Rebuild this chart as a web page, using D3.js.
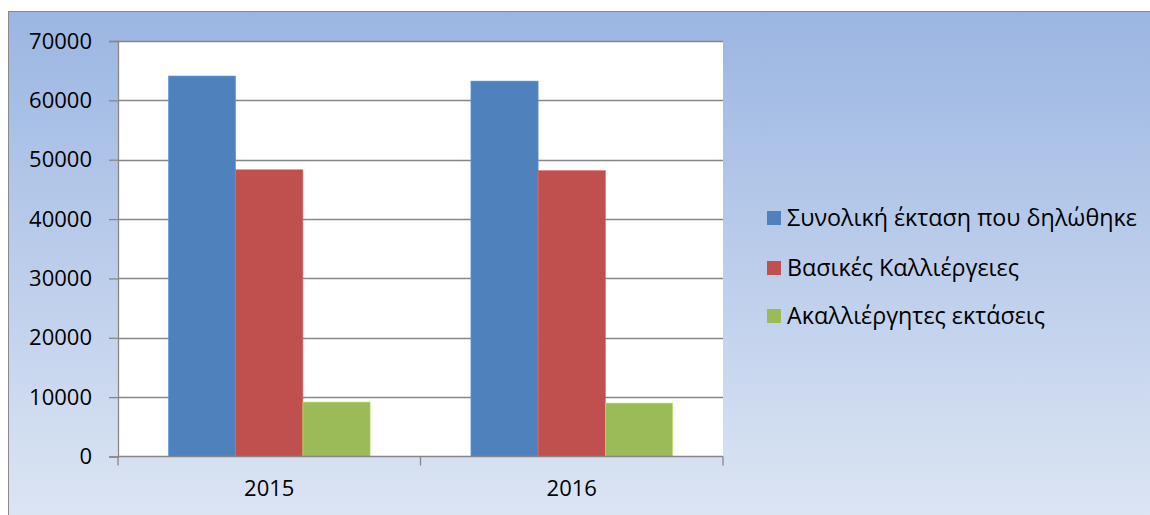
<!DOCTYPE html>
<html><head><meta charset="utf-8">
<script src="https://cdn.jsdelivr.net/npm/d3@7"></script>
<style>body{margin:0;background:#fff}svg{display:block}</style>
</head><body><svg id="c" width="1150" height="515"></svg>
<script>
const categories = ["2015", "2016"];
const seriesNames = ["Συνολική έκταση που δηλώθηκε", "Βασικές Καλλιέργειες", "Ακαλλιέργητες εκτάσεις"];
const seriesColors = ["#4f81bd", "#c0504d", "#9bbb59"];
const values = [
  [64100, 48300, 9170],
  [63250, 48150, 9000]
];
const yTicks = [0, 10000, 20000, 30000, 40000, 50000, 60000, 70000];

const svg = d3.select("#c");
const defs = svg.append("defs");
const grad = defs.append("linearGradient").attr("id","bg").attr("x1",0).attr("y1",0).attr("x2",0).attr("y2",1);
grad.append("stop").attr("offset","0%").attr("stop-color","#9bb6e2");
grad.append("stop").attr("offset","100%").attr("stop-color","#dee6f4");

svg.append("rect").attr("x",8.5).attr("y",11.5).attr("width",1150).attr("height",520)
  .attr("fill","url(#bg)").attr("stroke","#8a8a8a").attr("stroke-width",1);

const L=118, R=723, T=41, B=456.5;
const font = "'Open Sans', sans-serif";
svg.append("rect").attr("x",L).attr("y",T).attr("width",R-L).attr("height",B-T).attr("fill","#fff");

const x = d3.scaleBand().domain(categories).range([L,R]).paddingInner(0).paddingOuter(0);
const y = d3.scaleLinear().domain([0,70000]).range([B,T]);
const xs = d3.scaleBand().domain(d3.range(seriesNames.length)).range([0, x.bandwidth()]).paddingOuter(0.75).paddingInner(0);

// gridlines
svg.append("g").selectAll("line").data(yTicks.filter(d=>d>0)).join("line")
  .attr("x1",L).attr("x2",R).attr("y1",d=>Math.round(y(d))+0.5).attr("y2",d=>Math.round(y(d))+0.5)
  .attr("stroke","#878787").attr("stroke-width",1.3);

// bars
const g = svg.append("g");
categories.forEach((c,i)=>{
  values[i].forEach((v,j)=>{
    g.append("rect").attr("x",x(c)+xs(j)).attr("y",y(v)).attr("width",xs.bandwidth()).attr("height",B-y(v))
      .attr("fill",seriesColors[j]).attr("stroke", d3.color(seriesColors[j]).brighter(0.5)).attr("stroke-width",0.6);
  });
});

// y axis
const yAxis = d3.axisLeft(y).tickValues(yTicks).tickSize(9).tickPadding(17).tickFormat(d3.format("d"));
const ya = svg.append("g").attr("transform",`translate(${L},0)`).call(yAxis);
ya.select(".domain").attr("stroke","#878787").attr("stroke-width",1.3);
ya.selectAll(".tick line").attr("stroke","#878787").attr("stroke-width",1.3);
ya.selectAll("text").attr("font-family",font).attr("font-size",22).attr("fill","#000");

// x axis
const xAxis = d3.axisBottom(x).tickSize(0).tickPadding(24);
const xa = svg.append("g").attr("transform",`translate(0,${B})`).call(xAxis);
xa.select(".domain").remove();
xa.selectAll("text").attr("font-family",font).attr("font-size",22).attr("fill","#000");
svg.append("line").attr("x1",L).attr("x2",R).attr("y1",B).attr("y2",B).attr("stroke","#878787").attr("stroke-width",1.3);
svg.append("g").selectAll("line").data([L, ...categories.map(c=>x(c)+x.bandwidth())]).join("line")
  .attr("x1",d=>d).attr("x2",d=>d).attr("y1",B).attr("y2",B+9).attr("stroke","#878787").attr("stroke-width",1.3);

// legend
const leg = svg.append("g");
const legY = [218, 268, 316];
seriesNames.forEach((n,i)=>{
  leg.append("rect").attr("x",767).attr("y",legY[i]-7).attr("width",14).attr("height",14).attr("fill",seriesColors[i]);
  leg.append("text").attr("x",787).attr("y",legY[i]).attr("dy","0.35em").attr("font-family",font).attr("font-size",23.3).attr("fill","#000").text(n);
});
</script></body></html>
